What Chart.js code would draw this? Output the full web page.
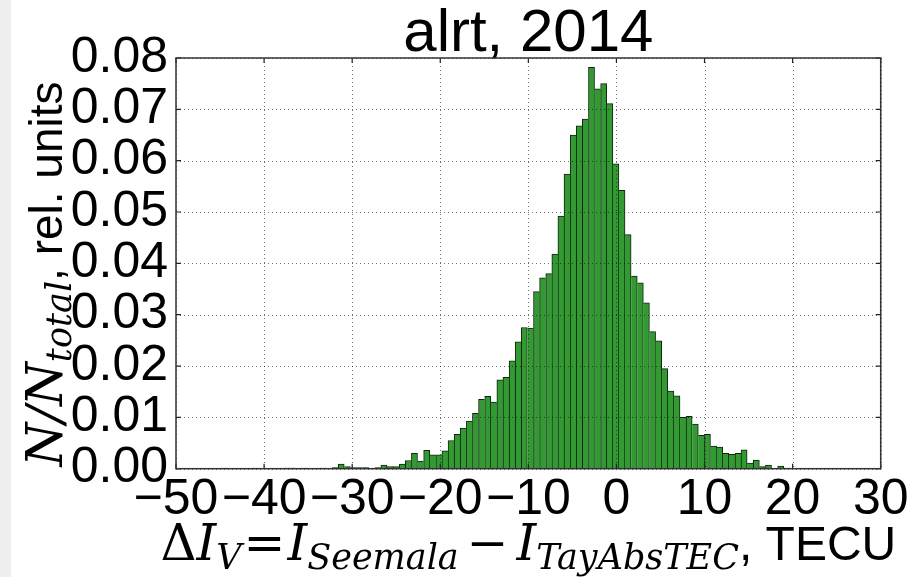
<!DOCTYPE html>
<html><head><meta charset="utf-8">
<script src="https://cdn.jsdelivr.net/npm/chart.js@4/dist/chart.umd.min.js"></script>
<style>html,body{margin:0;padding:0;background:#fff;overflow:hidden}#wrap{width:909px;height:577px;position:relative}</style>
</head><body><div id="wrap"><canvas id="c" width="909" height="577"></canvas></div>
<script>
const chartTitle = 'alrt, 2014';
const binCenters = [
  -44.41,-43.72,-43.03,-42.33,-41.64,-40.95,-40.26,-39.56,-38.87,-38.18,
  -37.49,-36.79,-36.10,-35.41,-34.71,-34.02,-33.33,-32.63,-31.94,-31.25,
  -30.55,-29.86,-29.17,-28.47,-27.78,-27.09,-26.40,-25.70,-25.01,-24.32,
  -23.62,-22.93,-22.24,-21.54,-20.85,-20.16,-19.47,-18.77,-18.08,-17.39,
  -16.69,-16.00,-15.31,-14.61,-13.92,-13.23,-12.54,-11.84,-11.15,-10.46,
  -9.76,-9.07,-8.38,-7.68,-6.99,-6.30,-5.61,-4.91,-4.22,-3.53,
  -2.83,-2.14,-1.45,-0.75,-0.06,0.63,1.32,2.02,2.71,3.40,
  4.10,4.79,5.48,6.18,6.87,7.56,8.25,8.95,9.64,10.33,
  11.03,11.72,12.41,13.11,13.80,14.49,15.18,15.88,16.57,17.26,
  17.96,18.65,19.34
];
const frequencies = [
  0.0001,0,0,0,0,0.0001,0,0,0,0,
  0.0001,0.0001,0,0.0001,0,0,0.0001,0,0.0002,0.0009,
  0.0004,0.0002,0.0002,0.0002,0,0.0002,0.0007,0.0004,0.0004,0.0009,
  0.0016,0.0030,0.0015,0.0036,0.0027,0.0027,0.0035,0.0055,0.0067,0.0079,
  0.0093,0.0108,0.0135,0.0141,0.0130,0.0173,0.0178,0.0210,0.0247,0.0275,
  0.0274,0.0345,0.0372,0.0380,0.0418,0.0492,0.0574,0.0650,0.0668,0.0681,
  0.0782,0.0740,0.0750,0.0711,0.0594,0.0542,0.0456,0.0375,0.0362,0.0323,
  0.0267,0.0249,0.0195,0.0151,0.0142,0.0100,0.0102,0.0087,0.0065,0.0067,
  0.0044,0.0042,0.0030,0.0028,0.0030,0.0037,0.0011,0.0017,0.0004,0.0007,
  0,0.0005,0.0001
];
const xTicks = [-50,-40,-30,-20,-10,0,10,20,30];
const yTicks = [0,0.01,0.02,0.03,0.04,0.05,0.06,0.07,0.08];

const SANS = '"Liberation Sans", Arial, sans-serif';
const MATH = '"DejaVu Serif", serif';

function drawParts(ctx, parts, cx, baseY) {
  let total = 0;
  parts.forEach(p => { ctx.font = p.font; p.w = ctx.measureText(p.text).width; total += p.w + (p.gap || 0); });
  let x = cx - total / 2;
  parts.forEach(p => { ctx.font = p.font; ctx.fillText(p.text, x, baseY + (p.dy || 0)); x += p.w + (p.gap || 0); });
}

const framePlugin = {
  id: 'frame',
  beforeDraw(chart) {
    const ctx = chart.ctx;
    ctx.save();
    ctx.fillStyle = '#ffffff';
    ctx.fillRect(0, 0, chart.width, chart.height);
    ctx.fillStyle = '#eeeeee';
    ctx.fillRect(0, 0, 11, chart.height);
    ctx.restore();
  },
  afterDatasetsDraw(chart) {
    const {ctx, chartArea: a, scales: {x, y}} = chart;
    ctx.save();
    ctx.strokeStyle = 'rgba(0,0,0,0.55)';
    ctx.lineWidth = 1;
    ctx.setLineDash([1, 3]);
    x.ticks.forEach(t => {
      const px = Math.round(x.getPixelForValue(t.value)) + 0.5;
      ctx.beginPath(); ctx.moveTo(px, a.top); ctx.lineTo(px, a.bottom); ctx.stroke();
    });
    y.ticks.forEach(t => {
      const py = Math.round(y.getPixelForValue(t.value)) + 0.5;
      ctx.beginPath(); ctx.moveTo(a.left, py); ctx.lineTo(a.right, py); ctx.stroke();
    });
    ctx.setLineDash([]);
    ctx.strokeStyle = '#222';
    ctx.lineWidth = 1.2;
    const L = 5;
    x.ticks.forEach(t => {
      const px = x.getPixelForValue(t.value);
      ctx.beginPath(); ctx.moveTo(px, a.bottom); ctx.lineTo(px, a.bottom - L);
      ctx.moveTo(px, a.top); ctx.lineTo(px, a.top + L); ctx.stroke();
    });
    y.ticks.forEach(t => {
      const py = y.getPixelForValue(t.value);
      ctx.beginPath(); ctx.moveTo(a.left, py); ctx.lineTo(a.left + L, py);
      ctx.moveTo(a.right, py); ctx.lineTo(a.right - L, py); ctx.stroke();
    });
    ctx.lineWidth = 1.5;
    ctx.strokeStyle = '#333';
    ctx.strokeRect(a.left, a.top, a.right - a.left, a.bottom - a.top);
    ctx.restore();
  },
  afterDraw(chart) {
    const {ctx, chartArea: a} = chart;
    ctx.save();
    ctx.fillStyle = '#000';
    ctx.textAlign = 'left';
    ctx.textBaseline = 'alphabetic';
    const M = 50, S = 35;
    drawParts(ctx, [
      {text: '\u0394', font: `${M}px ${MATH}`},
      {text: 'I', font: `italic ${M}px ${MATH}`},
      {text: 'V', font: `italic ${S}px ${MATH}`, dy: 9, gap: 2},
      {text: '=', font: `${M}px ${MATH}`, gap: 2},
      {text: 'I', font: `italic ${M}px ${MATH}`},
      {text: 'Seemala', font: `italic ${S}px ${MATH}`, dy: 9, gap: 8},
      {text: '\u2212', font: `${M}px ${MATH}`, gap: 8},
      {text: 'I', font: `italic ${M}px ${MATH}`},
      {text: 'TayAbsTEC', font: `italic ${S}px ${MATH}`, dy: 9},
      {text: ', TECU', font: `48px ${SANS}`}
    ], (a.left + a.right) / 2, 560);
    ctx.translate(62, 274);
    ctx.rotate(-Math.PI / 2);
    drawParts(ctx, [
      {text: 'N/N', font: `italic ${M}px ${MATH}`},
      {text: 'total', font: `italic ${S}px ${MATH}`, dy: 9},
      {text: ', rel. units', font: `46px ${SANS}`}
    ], 0, 0);
    ctx.restore();
  }
};

const barBorder = (c) => {
  const i = c.dataIndex;
  const v = frequencies[i];
  const p = i > 0 ? frequencies[i - 1] : 0;
  const n = i < frequencies.length - 1 ? frequencies[i + 1] : 0;
  return {left: p <= v ? 1 : 0, top: 1, right: n < v ? 1 : 0, bottom: 0};
};

new Chart(document.getElementById('c'), {
  type: 'bar',
  data: {
    datasets: [{
      data: binCenters.map((c, i) => ({x: c, y: frequencies[i]})),
      backgroundColor: '#339933',
      borderColor: '#0f240f',
      borderWidth: barBorder,
      borderSkipped: false,
      barPercentage: 1,
      categoryPercentage: 1,
      grouped: false
    }]
  },
  options: {
    responsive: false,
    animation: false,
    events: [],
    layout: {padding: {left: 0, right: 28.3, top: 0, bottom: 0}},
    plugins: {
      legend: {display: false},
      tooltip: {enabled: false},
      title: {
        display: true, text: chartTitle, fullSize: false,
        color: '#000',
        font: {family: SANS, size: 60, lineHeight: 0.8, weight: 'normal'},
        padding: {top: 10, bottom: 0}
      }
    },
    scales: {
      x: {
        type: 'linear', min: -50, max: 30, offset: false,
        afterBuildTicks: s => { s.ticks = xTicks.map(v => ({value: v})); },
        afterFit: s => { s.height = 577 - 468.7; s.paddingLeft = 0; s.paddingRight = 0; },
        grid: {display: false, drawTicks: false, offset: false},
        border: {display: false},
        ticks: {
          autoSkip: false, maxRotation: 0, padding: 2, color: '#000',
          font: {family: SANS, size: 50},
          callback: v => (v < 0 ? '\u2212' + Math.abs(v) : String(v))
        }
      },
      y: {
        type: 'linear', min: 0, max: 0.08, offset: false,
        afterBuildTicks: s => { s.ticks = yTicks.map(v => ({value: v})); },
        afterFit: s => { s.width = 176; s.paddingTop = 0; s.paddingBottom = 0; },
        grid: {display: false, drawTicks: false},
        border: {display: false},
        ticks: {
          autoSkip: false, padding: 8, color: '#000',
          font: {family: SANS, size: 50},
          callback: v => Number(v).toFixed(2)
        }
      }
    }
  },
  plugins: [framePlugin]
});
</script>
</body></html>
